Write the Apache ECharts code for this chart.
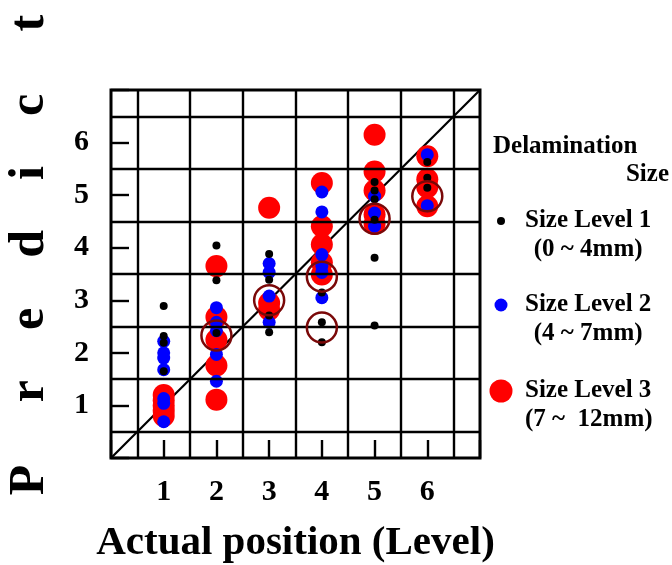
<!DOCTYPE html>
<html><head><meta charset="utf-8">
<script src="https://cdn.jsdelivr.net/npm/echarts@6/dist/echarts.min.js"></script>
<style>html,body{margin:0;padding:0;background:#fff}#c{width:672px;height:565px}</style>
</head><body><div id="c"></div>
<script>
// ---- data ----
const tickValues = [1, 2, 3, 4, 5, 6];
const tickLabels = ['1', '2', '3', '4', '5', '6'];
const gridLinePos = [0.5, 1.5, 2.5, 3.5, 4.5, 5.5, 6.5];
const diagonal = [[0, 0], [7, 7]];
// Size Level 1 (black)
const level1 = [
  [1, 2.89], [1, 2.32], [1, 2.19], [1, 1.65],
  [2, 4.04], [2, 3.38], [2, 2.38],
  [3, 3.88], [3, 3.39], [3, 2.71], [3, 2.39],
  [4, 3.15], [4, 2.58], [4, 2.20],
  [5, 5.25], [5, 5.09], [5, 4.92], [5, 4.53], [5, 3.81], [5, 2.52],
  [6, 5.63], [6, 5.33], [6, 5.14]
];
// Size Level 2 (blue)
const level2 = [
  [1, 2.22], [1, 2.0], [1, 1.9], [1, 1.68], [1, 1.13], [1, 1.04], [1, 0.69],
  [2, 2.86], [2, 2.58], [2, 2.42], [2, 1.97], [2, 1.46],
  [3, 3.70], [3, 3.53], [3, 3.08], [3, 2.58],
  [4, 5.06], [4, 4.68], [4, 3.87], [4, 3.65], [4, 3.53], [4, 3.05],
  [5, 4.98], [5, 4.66], [5, 4.41],
  [6, 5.77], [6, 4.80]
];
// Size Level 3 (red)
const level3 = [
  [1, 1.2], [1, 1.1], [1, 1.0], [1, 0.9], [1, 0.8],
  [2, 3.65], [2, 2.68], [2, 2.25], [2, 1.76], [2, 1.11],
  [3, 4.76], [3, 2.95], [3, 2.82],
  [4, 5.23], [4, 4.41], [4, 4.06], [4, 3.72], [4, 3.49],
  [5, 6.15], [5, 5.45], [5, 5.09], [5, 4.63], [5, 4.45],
  [6, 5.74], [6, 5.30], [6, 5.15], [6, 4.79]
];
// highlighted points (open dark-red circles)
const highlighted = [[2, 2.33], [3, 3.0], [4, 3.45], [4, 2.48], [5, 4.55], [6, 4.98]];
const seriesNames = ['Size Level 1', 'Size Level 2', 'Size Level 3'];
const rangeLabels = ['(0 ~ 4mm)', '(4 ~ 7mm)', '(7 ~  12mm)'];
const xTitle = 'Actual position (Level)';
const yTitle = 'P     r    e    d    i    c     t';
const legendTitle = ['Delamination', 'Size'];

// ---- chart ----
const FF = '"Liberation Serif", "Times New Roman", serif';
const chart = echarts.init(document.getElementById('c'), null, {renderer: 'canvas'});
const labelFmt = v => { const i = tickValues.indexOf(v); return i >= 0 ? tickLabels[i] : ''; };
const legendCenters = [221, 305, 391];
const legendSizes = [8, 13, 23];

chart.setOption({
  animation: false,
  backgroundColor: '#fff',
  grid: {left: 111, top: 90, right: 192, bottom: 107, show: true, borderColor: '#000', borderWidth: 3,
         containLabel: false, outerBoundsMode: 'none'},
  xAxis: {
    type: 'value', min: 0, max: 7, interval: 1,
    axisLine: {show: false},
    axisTick: {show: true, inside: true, length: 18, lineStyle: {color: '#000', width: 2.4}},
    axisLabel: {show: true, margin: 19, formatter: labelFmt, color: '#000', fontSize: 30, fontWeight: 'bold', fontFamily: FF},
    splitLine: {show: false},
    name: xTitle, nameLocation: 'middle', nameGap: 65,
    nameTextStyle: {color: '#000', fontSize: 41, fontWeight: 'bold', fontFamily: FF}
  },
  yAxis: {
    type: 'value', min: 0, max: 7, interval: 1,
    axisLine: {show: false},
    axisTick: {show: true, inside: true, length: 18, lineStyle: {color: '#000', width: 2.4}},
    axisLabel: {show: true, margin: 22, formatter: labelFmt, color: '#000', fontSize: 30, fontWeight: 'bold', fontFamily: FF},
    splitLine: {show: false}
  },
  legend: seriesNames.map((n, i) => ({
    data: [{name: n, icon: 'circle'}],
    selectedMode: false, orient: 'vertical', left: 501 - legendSizes[i] / 2, top: legendCenters[i] - 43.5, padding: 0,
    itemWidth: 38, itemHeight: legendSizes[i],
    formatter: () => '{e| }\n{a|' + n + '}\n{b|' + rangeLabels[i] + '}',
    textStyle: {
      color: '#000', fontSize: 25, fontWeight: 'bold', fontFamily: FF, lineHeight: 29,
      rich: {
        e: {fontSize: 25, lineHeight: 29, fontFamily: FF},
        a: {fontSize: 25, lineHeight: 29, fontWeight: 'bold', fontFamily: FF, color: '#000'},
        b: {fontSize: 25, lineHeight: 29, fontWeight: 'bold', fontFamily: FF, color: '#000', align: 'center'}
      }
    }
  })),
  graphic: [
    {type: 'text', x: 30, y: 255, rotation: Math.PI / 2, silent: true,
     style: {text: yTitle, font: 'bold 50px ' + FF, fill: '#000', align: 'center', verticalAlign: 'middle',
             textAlign: 'center', textVerticalAlign: 'middle'}},
    {type: 'text', x: 493, y: 147, silent: true,
     style: {text: legendTitle[0], font: 'bold 25px ' + FF, fill: '#000', align: 'left', verticalAlign: 'middle',
             textAlign: 'left', textVerticalAlign: 'middle'}},
    {type: 'text', x: 669, y: 175, silent: true,
     style: {text: legendTitle[1], font: 'bold 25px ' + FF, fill: '#000', align: 'right', verticalAlign: 'middle',
             textAlign: 'right', textVerticalAlign: 'middle'}}
  ],
  series: [
    {
      type: 'line', data: diagonal, symbol: 'none', silent: true, z: 1,
      lineStyle: {color: '#000', width: 2.2},
      markLine: {
        silent: true, symbol: ['none', 'none'], label: {show: false},
        lineStyle: {color: '#000', width: 2.4, type: 'solid'},
        data: gridLinePos.map(v => ({xAxis: v})).concat(gridLinePos.map(v => ({yAxis: v})))
      }
    },
    {name: seriesNames[2], type: 'scatter', data: level3, symbol: 'circle', symbolSize: 22, z: 3,
     itemStyle: {color: '#ff0000', opacity: 1}},
    {name: seriesNames[1], type: 'scatter', data: level2, symbol: 'circle', symbolSize: 13, z: 4,
     itemStyle: {color: '#0000ff', opacity: 1}},
    {name: seriesNames[0], type: 'scatter', data: level1, symbol: 'circle', symbolSize: 8, z: 5,
     itemStyle: {color: '#000000', opacity: 1}},
    {name: 'highlight', type: 'scatter', data: highlighted, symbol: 'circle', symbolSize: 30, z: 6,
     itemStyle: {color: 'rgba(0,0,0,0)', borderColor: '#7a0808', borderWidth: 2.5, opacity: 1}}
  ]
});
</script>
</body></html>
